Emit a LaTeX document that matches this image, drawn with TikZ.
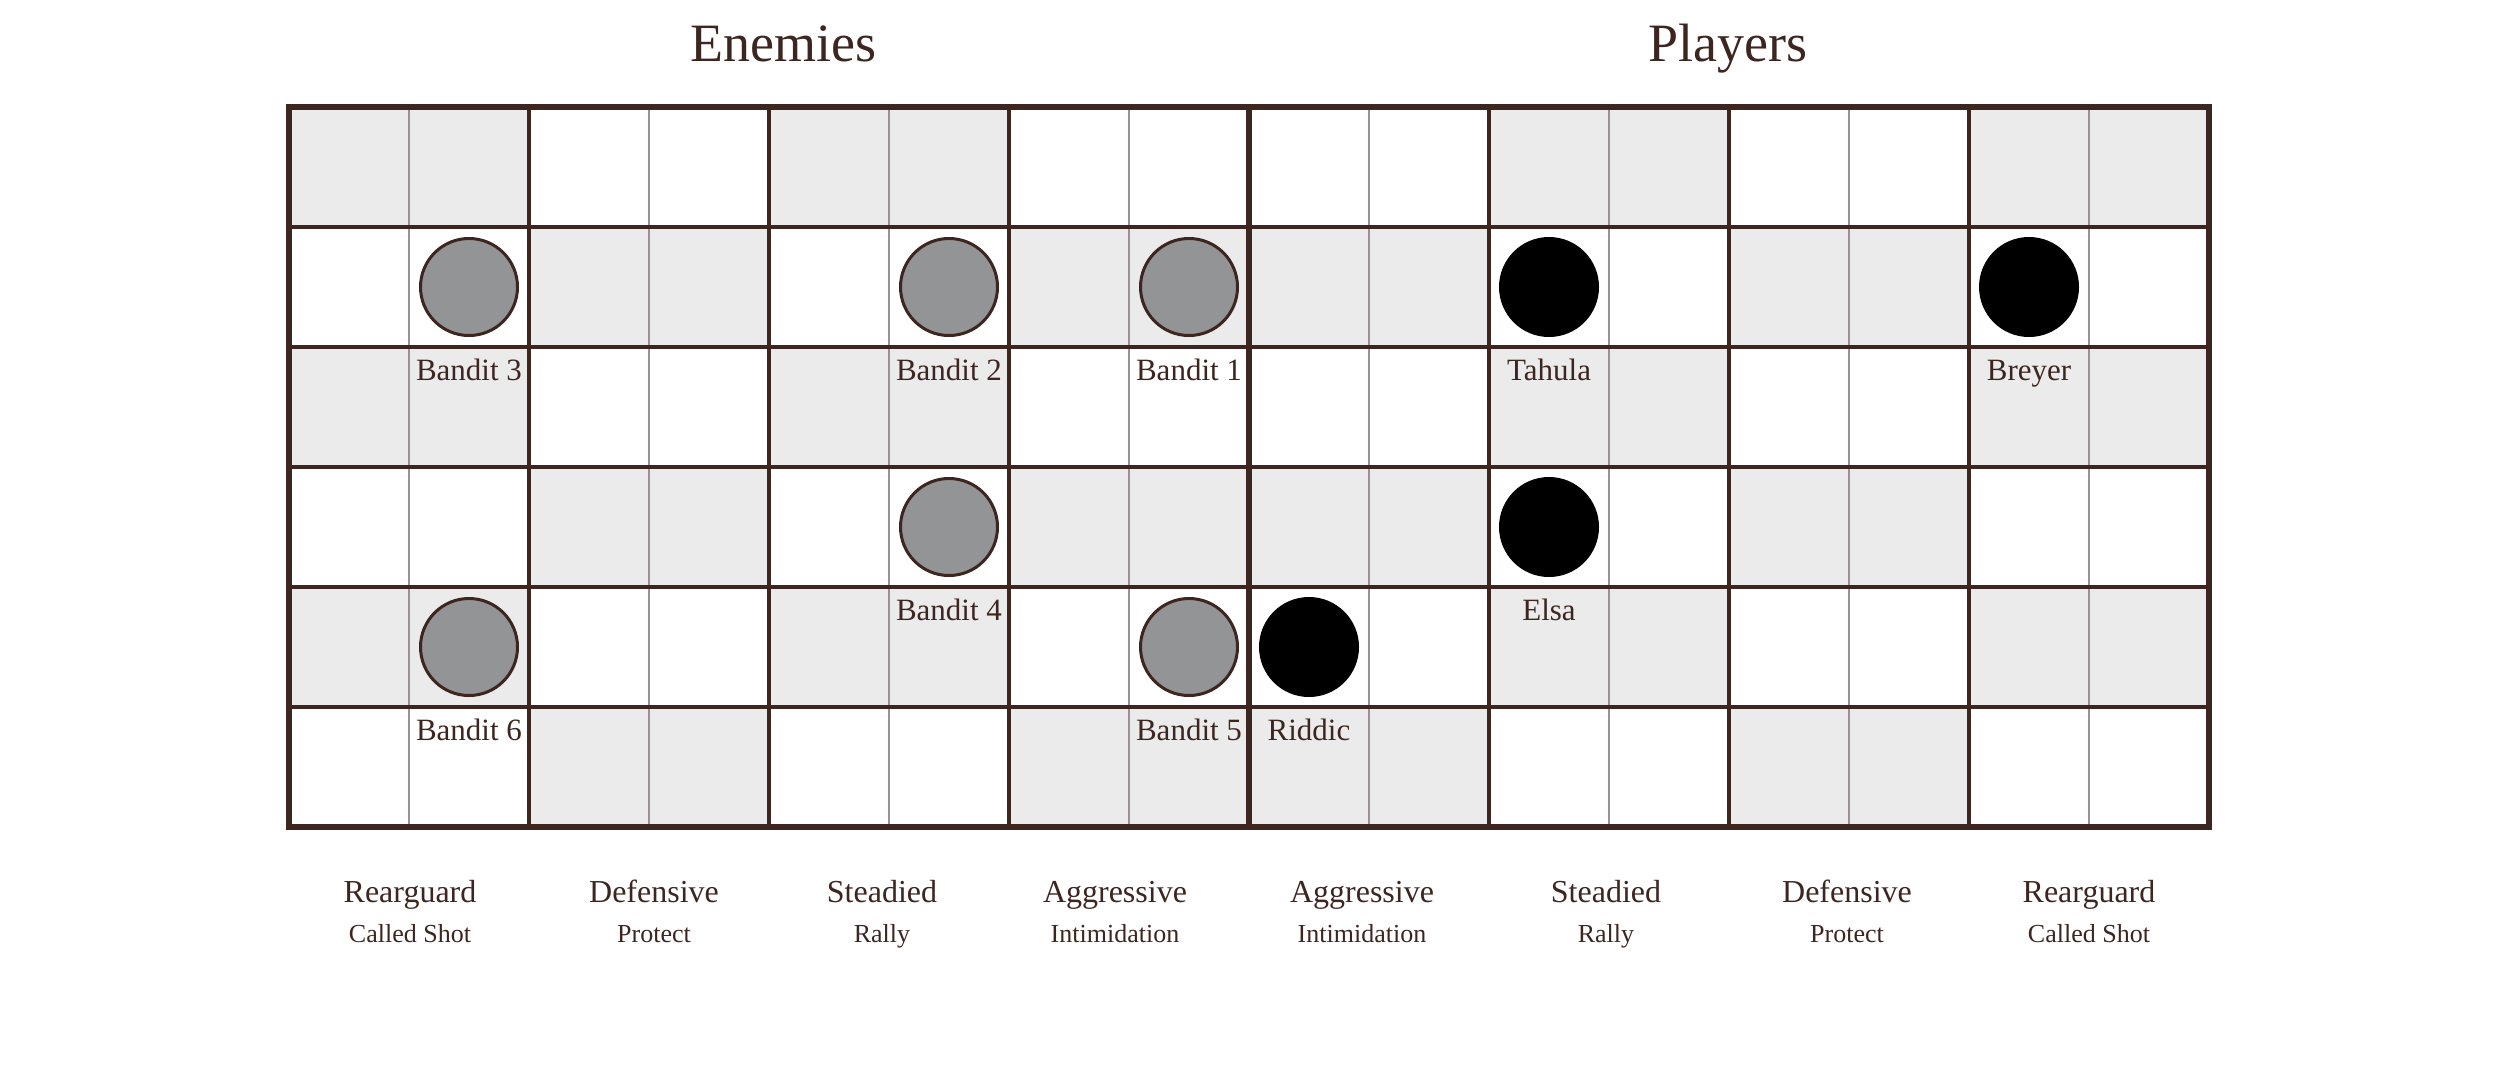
\documentclass[tikz,border=0pt]{standalone}
\usepackage{fontspec}
\setmainfont{Liberation Serif}
\usetikzlibrary{calc}
\definecolor{ink}{HTML}{3D2620}
\definecolor{cellshade}{HTML}{EBEBEB}
\definecolor{thinline}{HTML}{9C9090}
\definecolor{foefill}{HTML}{939495}
\begin{document}
\begin{tikzpicture}[x=1pt,y=-1pt,
  enemytok/.style={circle,draw=ink,line width=3pt,fill=foefill,minimum size=97pt,inner sep=0pt},
  playertok/.style={circle,fill=black,minimum size=100pt,inner sep=0pt},
  toklabel/.style={anchor=base,inner sep=0pt,text=ink,font=\fontsize{31}{31}\selectfont},
  titlelbl/.style={anchor=base,inner sep=0pt,text=ink,font=\fontsize{54}{54}\selectfont},
  stancelbl/.style={anchor=base,inner sep=0pt,text=ink,font=\fontsize{32}{32}\selectfont},
  actionlbl/.style={anchor=base,inner sep=0pt,text=ink,font=\fontsize{26}{26}\selectfont},
  thickrule/.style={draw=ink,line width=4pt},
  thinrule/.style={draw=thinline,line width=2pt}]
\useasboundingbox (0,0) rectangle (2500,1080);
\fill[white] (0,0) rectangle (2500,1080);
% shaded 2x1 blocks
\foreach \r in {0,...,5}{
  \foreach \b in {0,...,7}{
    \pgfmathtruncatemacro\s{mod(\b+\r+(\b>3),2)}
    \ifnum\s=0
      \fill[cellshade] ({289+240*\b},{107+120*\r}) rectangle ++(240,120);
    \fi
  }
}
% thin column lines inside each block
\foreach \k in {0,...,7}{
  \draw[thinrule] ({289+240*\k+120},107) -- ++(0,720);
}
% row lines
\foreach \r in {1,...,5}{
  \draw[thickrule] (289,{107+120*\r}) -- ++(1920,0);
}
% block column lines
\foreach \k in {1,2,3,5,6,7}{
  \draw[thickrule] ({289+240*\k},107) -- ++(0,720);
}
\draw[draw=ink,line width=6pt] (1249,107) -- (1249,827);
\draw[draw=ink,line width=6pt] (289,107) rectangle (2209,827);
% titles
\node[titlelbl] (enemies) at (783,61) {Enemies};
\node[titlelbl] (players) at (1728,61) {Players};
% enemy tokens
\node[enemytok] (b3) at (469,287) {};
\node[enemytok] (b2) at (949,287) {};
\node[enemytok] (b1) at (1189,287) {};
\node[enemytok] (b4) at (949,527) {};
\node[enemytok] (b6) at (469,647) {};
\node[enemytok] (b5) at (1189,647) {};
% player tokens
\node[playertok] (tahula) at (1549,287) {};
\node[playertok] (breyer) at (2029,287) {};
\node[playertok] (elsa) at (1549,527) {};
\node[playertok] (riddic) at (1309,647) {};
% token labels
\node[toklabel] (b3n) at ($(b3.center)+(0,93)$) {Bandit 3};
\node[toklabel] (b2n) at ($(b2.center)+(0,93)$) {Bandit 2};
\node[toklabel] (b1n) at ($(b1.center)+(0,93)$) {Bandit 1};
\node[toklabel] (b4n) at ($(b4.center)+(0,93)$) {Bandit 4};
\node[toklabel] (b6n) at ($(b6.center)+(0,93)$) {Bandit 6};
\node[toklabel] (b5n) at ($(b5.center)+(0,93)$) {Bandit 5};
\node[toklabel] (tahulan) at ($(tahula.center)+(0,93)$) {Tahula};
\node[toklabel] (breyern) at ($(breyer.center)+(0,93)$) {Breyer};
\node[toklabel] (elsan) at ($(elsa.center)+(0,93)$) {Elsa};
\node[toklabel] (riddicn) at ($(riddic.center)+(0,93)$) {Riddic};
% stance labels
\node[stancelbl] (s1) at (410,902) {Rearguard};
\node[stancelbl] (s2) at (654,902) {Defensive};
\node[stancelbl] (s3) at (882,902) {Steadied};
\node[stancelbl] (s4) at (1115,902) {Aggressive};
\node[stancelbl] (s5) at (1362,902) {Aggressive};
\node[stancelbl] (s6) at (1606,902) {Steadied};
\node[stancelbl] (s7) at (1847,902) {Defensive};
\node[stancelbl] (s8) at (2089,902) {Rearguard};
\node[actionlbl] (a1) at (410,942) {Called Shot};
\node[actionlbl] (a2) at (654,942) {Protect};
\node[actionlbl] (a3) at (882,942) {Rally};
\node[actionlbl] (a4) at (1115,942) {Intimidation};
\node[actionlbl] (a5) at (1362,942) {Intimidation};
\node[actionlbl] (a6) at (1606,942) {Rally};
\node[actionlbl] (a7) at (1847,942) {Protect};
\node[actionlbl] (a8) at (2089,942) {Called Shot};
\end{tikzpicture}
\end{document}
